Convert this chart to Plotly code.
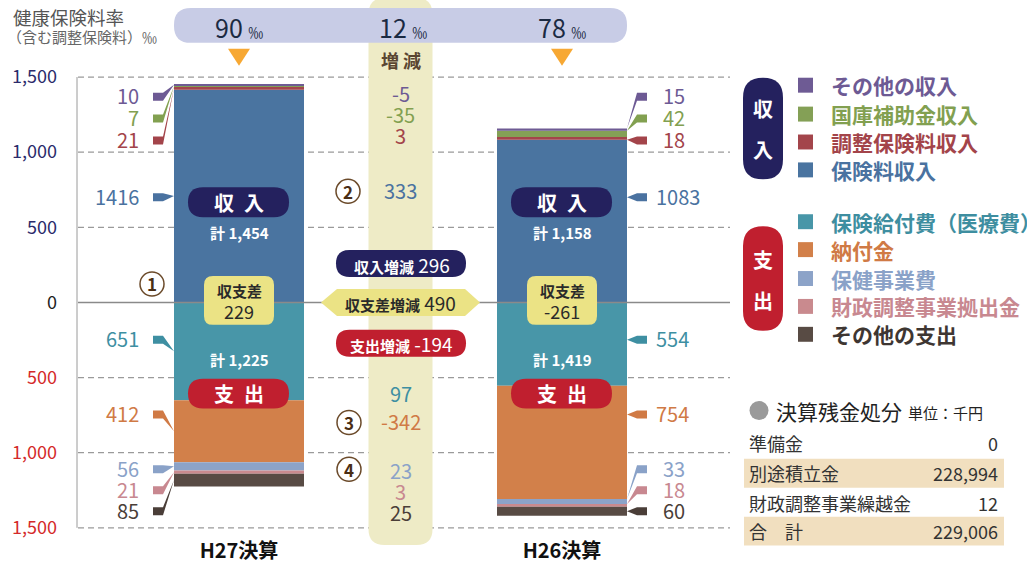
import plotly.graph_objects as go

# ---------------- data ----------------
years = ["H27決算", "H26決算"]
rates = [90, 78]                      # 健康保険料率 ‰
inc_names = ["保険料収入", "調整保険料収入", "国庫補助金収入", "その他の収入"]
inc_hoken = [1416, 1083]
inc_chosei = [21, 18]
inc_kokko = [7, 42]
inc_sonota = [10, 15]
exp_names = ["保険給付費（医療費）", "納付金", "保健事業費", "財政調整事業拠出金", "その他の支出"]
exp_kyufu = [651, 554]
exp_nofu = [412, 754]
exp_hoken = [56, 33]
exp_zaisei = [21, 18]
exp_sonota = [85, 60]
table_labels = ["準備金", "別途積立金", "財政調整事業繰越金", "合　計"]
table_values = [0, 228994, 12, 229006]
tick_vals = [1500, 1000, 500, 0, -500, -1000, -1500]
tick_text = ["1,500", "1,000", "500", "0", "500", "1,000", "1,500"]

# ---------------- styles ----------------
FONT = "Noto Sans CJK JP"
NAVY = "#24215e"
REDP = "#c01f2f"
YEL = "#ebe385"
inc_bar_cols = ["#4a74a0", "#a3454b", "#84a056", "#6e5b94"]
inc_txt_cols = ["#4a72a0", "#a3444a", "#82a050", "#6d5a94"]
exp_bar_cols = ["#4896a8", "#d2804a", "#8ca3c8", "#c98a8e", "#584b44"]
exp_txt_cols = ["#3e8fa2", "#d07a45", "#8aa2c8", "#c88890", "#4a3e38"]

# ---------------- geometry ----------------
W, H = 1027, 564
K = 0.1508          # px per unit
Z = 303.5           # px of zero
C0, STEP = 239, 323  # category pixel centre / spacing
BW_PX = 130


def P(v):
    return Z - K * v


def PX(i):
    return C0 + STEP * i


inc_series = [inc_hoken, inc_chosei, inc_kokko, inc_sonota]
exp_series = [exp_kyufu, exp_nofu, exp_hoken, exp_zaisei, exp_sonota]
inc_tot = [sum(s[i] for s in inc_series) for i in range(2)]
exp_tot = [sum(s[i] for s in exp_series) for i in range(2)]
bal = [inc_tot[i] - exp_tot[i] for i in range(2)]

fig = go.Figure()
for s, name, col in zip(inc_series, inc_names, inc_bar_cols):
    fig.add_trace(go.Bar(x=years, y=s, name=name, marker=dict(color=col, line=dict(width=0)),
                         width=BW_PX / STEP, hoverinfo="skip", showlegend=False))
for s, name, col in zip(exp_series, exp_names, exp_bar_cols):
    fig.add_trace(go.Bar(x=years, y=[-v for v in s], name=name, marker=dict(color=col, line=dict(width=0)),
                         width=BW_PX / STEP, hoverinfo="skip", showlegend=False))

shapes = []
anns = []


def ann(x, y, text, size, color, xanchor="center", bold=False):
    anns.append(dict(x=x, y=y, xref="x2", yref="y2", text=text, showarrow=False,
                     xanchor=xanchor, yanchor="middle",
                     font=dict(family=FONT, size=size, color=color,
                               weight="bold" if bold else "normal")))


def path(d, fill, layer="below"):
    shapes.append(dict(type="path", path=d, xref="x2", yref="y2", fillcolor=fill,
                       line=dict(width=0), layer=layer))


def rrect(x0, y0, x1, y1, r):
    return (f"M{x0+r},{y0} L{x1-r},{y0} Q{x1},{y0} {x1},{y0+r} L{x1},{y1-r} Q{x1},{y1} {x1-r},{y1} "
            f"L{x0+r},{y1} Q{x0},{y1} {x0},{y1-r} L{x0},{y0+r} Q{x0},{y0} {x0+r},{y0} Z")


# central column
MIDX = (PX(0) + PX(1)) / 2
path(rrect(MIDX - 32, -2, MIDX + 32, 547, 16), "#eeebc6")
# rate pill
path(rrect(174, 8, 627, 43, 17), "#c8cce6")
# gridlines
for v in tick_vals:
    if v == 0:
        continue
    shapes.append(dict(type="line", xref="x2", yref="y", x0=78, x1=730, y0=v, y1=v,
                       line=dict(color="#9a9a9a", width=1.3, dash="6px,4px"), layer="below"))
shapes.append(dict(type="line", xref="x2", yref="y", x0=77, x1=77, y0=tick_vals[0], y1=tick_vals[-1],
                   line=dict(color="#9a9a9a", width=1), layer="below"))
shapes.append(dict(type="line", xref="x2", yref="y", x0=78, x1=730, y0=0, y1=0,
                   line=dict(color="#8a8a8a", width=1.5), layer="above"))

# rates
for i in range(2):
    ann(PX(i), 27, f"{rates[i]} <span style='font-size:15px'>‰</span>", 25, "#1b2a42")
    path(f"M{PX(i)-11},49 L{PX(i)+11},49 L{PX(i)},66 Z", "#f7a833")
ann(MIDX + 2, 27, f"{rates[0]-rates[1]} <span style='font-size:15px'>‰</span>", 25, "#1b2a42")
ann(MIDX, 60, "増 減", 18, "#5a4632", bold=True)

# title
ann(11, 17, "健康保険料率", 18.5, "#555555", xanchor="left")
ann(5, 37, "（含む調整保険料）‰", 15, "#666666", xanchor="left")

# label positions (px)
inc_lab_py = [197, 140, 118, 96]
exp_lab_py = [340, 415, 470, 491, 512]
inc_dif_py = [191, 136, 115, 94]
exp_dif_py = [395, 423, 472, 493, 514]


def flag(i, py, tpy, col):
    fy = py + 1
    if i == 0:
        tip = PX(0) - BW_PX / 2
        d = f"M153,{fy-4} L163,{fy-4} L{tip},{tpy} L163,{fy+4} L153,{fy+4} Z"
    else:
        tip = PX(1) + BW_PX / 2
        d = f"M647,{fy-4} L637,{fy-4} L{tip},{tpy} L637,{fy+4} L647,{fy+4} Z"
    path(d, col, layer="above")


def callouts(series, signs, lab_py, dif_py, txt_cols):
    for i in range(2):
        cum = 0
        for s, py, col in zip(series, lab_py, txt_cols):
            a, b = cum, cum + s[i]
            cum = b
            top, bot = sorted([P(signs * a), P(signs * b)])
            if i == 0:
                tpy = (top + bot) / 2
                ann(141, py, str(s[i]), 20, col, xanchor="right")
            else:
                tpy = max(top, min(bot, py + 1))
                xl = 654 if s[i] >= 100 else 661
                ann(xl, py, str(s[i]), 20, col, xanchor="left")
            flag(i, py, tpy, col)
    for s, py, col in zip(series, dif_py, txt_cols):
        ann(MIDX, py, str(s[0] - s[1]), 20, col)


callouts(inc_series, 1, inc_lab_py, inc_dif_py, inc_txt_cols)
callouts(exp_series, -1, exp_lab_py, exp_dif_py, exp_txt_cols)

# in-bar labels
for i in range(2):
    cx = PX(i)
    path(rrect(cx - 51, 188, cx + 50, 218, 15), NAVY, layer="above")
    ann(cx, 203, "収\u2002入", 20, "white", bold=True)
    ann(cx, 233, f"計 {inc_tot[i]:,}", 15, "white", bold=True)
    path(rrect(cx - 35, 277, cx + 35, 326, 9), YEL, layer="above")
    ann(cx, 292, "収支差", 15, "#2a2a2a", bold=True)
    ann(cx, 312, f"{bal[i]}", 18, "#2a2a2a")
    ann(cx, 361, f"計 {exp_tot[i]:,}", 15, "white", bold=True)
    path(rrect(cx - 51, 380, cx + 50, 410, 15), REDP, layer="above")
    ann(cx, 395, "支\u2002出", 20, "white", bold=True)

# circled numbers
for (cx, cy, t) in [(152, 285, "1"), (348, 192, "2"), (349, 424, "3"), (349, 471, "4")]:
    shapes.append(dict(type="circle", xref="x2", yref="y2", x0=cx - 12, x1=cx + 12, y0=cy - 12, y1=cy + 12,
                       line=dict(color="#6b4a2a", width=1.5), fillcolor="white", layer="above"))
    ann(cx, cy, t, 17, "#4a2e14", bold=True)

# central badges
path(rrect(336, 251, 466, 278, 13.5), NAVY, layer="above")
ann(MIDX + 1, 265, f"<span style='font-size:15px'><b>収入増減</b></span> {inc_tot[0]-inc_tot[1]}", 19, "white")
path("M321,303.5 L337,290 L465,290 L480,303.5 L465,317 L337,317 Z", YEL, layer="above")
ann(MIDX, 304, f"<span style='font-size:15px'><b>収支差増減</b></span> {bal[0]-bal[1]}", 19, "#2a2a2a")
path(rrect(336, 331, 466, 358, 13.5), REDP, layer="above")
ann(MIDX + 1, 345, f"<span style='font-size:15px'><b>支出増減</b></span> {exp_tot[0]-exp_tot[1]}", 19, "white")

# legend
path(rrect(743, 78, 783, 180, 20), NAVY)
ann(763, 109, "収", 20, "white", bold=True)
ann(763, 150, "入", 20, "white", bold=True)
path(rrect(743, 227, 783, 332, 20), REDP)
ann(763, 260, "支", 20, "white", bold=True)
ann(763, 302, "出", 20, "white", bold=True)
leg_inc_y = [170.5, 142.5, 114.5, 85.5]
leg_exp_y = [222.5, 250.5, 279.5, 307.5, 335.5]
leg_exp_txt = ["#3e8ea0", "#d07a45", "#8aa2c8", "#c88890", "#3e3632"]
for name, bc, tc, y in zip(inc_names, inc_bar_cols, inc_txt_cols, leg_inc_y):
    shapes.append(dict(type="rect", xref="x2", yref="y2", x0=798, x1=813, y0=y - 7.5, y1=y + 7.5,
                       fillcolor=bc, line=dict(width=0)))
    ann(829, y, name, 21, tc, xanchor="left", bold=True)
for name, bc, tc, y in zip(exp_names, exp_bar_cols, leg_exp_txt, leg_exp_y):
    shapes.append(dict(type="rect", xref="x2", yref="y2", x0=798, x1=813, y0=y - 7.5, y1=y + 7.5,
                       fillcolor=bc, line=dict(width=0)))
    ann(829, y, name, 21, tc, xanchor="left", bold=True)

# table
shapes.append(dict(type="circle", xref="x2", yref="y2", x0=749.5, x1=768.5, y0=402.5, y1=421.5,
                   fillcolor="#9a9a9a", line=dict(width=0)))
ann(774, 412, "決算残金処分", 21, "#222222", xanchor="left")
ann(906, 414, "単位：千円", 15, "#222222", xanchor="left")
row_y = [445, 475, 505, 533]
for k, (lab, val, y) in enumerate(zip(table_labels, table_values, row_y)):
    if k % 2 == 1:
        shapes.append(dict(type="rect", xref="x2", yref="y2", x0=744, x1=1004, y0=y - 14.5, y1=y + 14.5,
                           fillcolor="#f1dfbf", line=dict(width=0), layer="below"))
    ann(747, y, lab, 18, "#333333", xanchor="left")
    ann(1000, y, f"{val:,}", 18, "#333333", xanchor="right")

# y tick labels with colours
tcols = []
for v in tick_vals:
    tcols.append("#2b2b6b" if v > 0 else ("#222222" if v == 0 else "#d42a2a"))
ticktext = [f"<span style='color:{c}'>{t}</span>" for t, c in zip(tick_text, tcols)]

fig.update_layout(
    width=W, height=H, margin=dict(l=0, r=0, t=0, b=0),
    paper_bgcolor="white", plot_bgcolor="white",
    barmode="relative",
    font=dict(family=FONT),
    xaxis=dict(type="category", categoryorder="array", categoryarray=years,
               range=[(0 - C0) / STEP, (W - C0) / STEP], domain=[0, 1],
               anchor="free", position=(H - 539) / H, showgrid=False, zeroline=False,
               showline=False, ticks="", tickfont=dict(family=FONT, size=20, color="#111111", weight="bold"),
               fixedrange=True),
    yaxis=dict(range=[(Z - H) / K, Z / K], domain=[0, 1], anchor="free", position=57 / W,
               tickvals=tick_vals, ticktext=ticktext, ticks="", showgrid=False, zeroline=False,
               showline=False, tickfont=dict(family=FONT, size=18), fixedrange=True),
    xaxis2=dict(range=[0, W], overlaying="x", visible=False, fixedrange=True),
    yaxis2=dict(range=[H, 0], overlaying="y", visible=False, fixedrange=True),
    shapes=shapes, annotations=anns,
)

fig.write_html("out.html", config={"displayModeBar": False},
               post_script="document.body.style.margin='0';document.body.style.overflow='hidden';")
